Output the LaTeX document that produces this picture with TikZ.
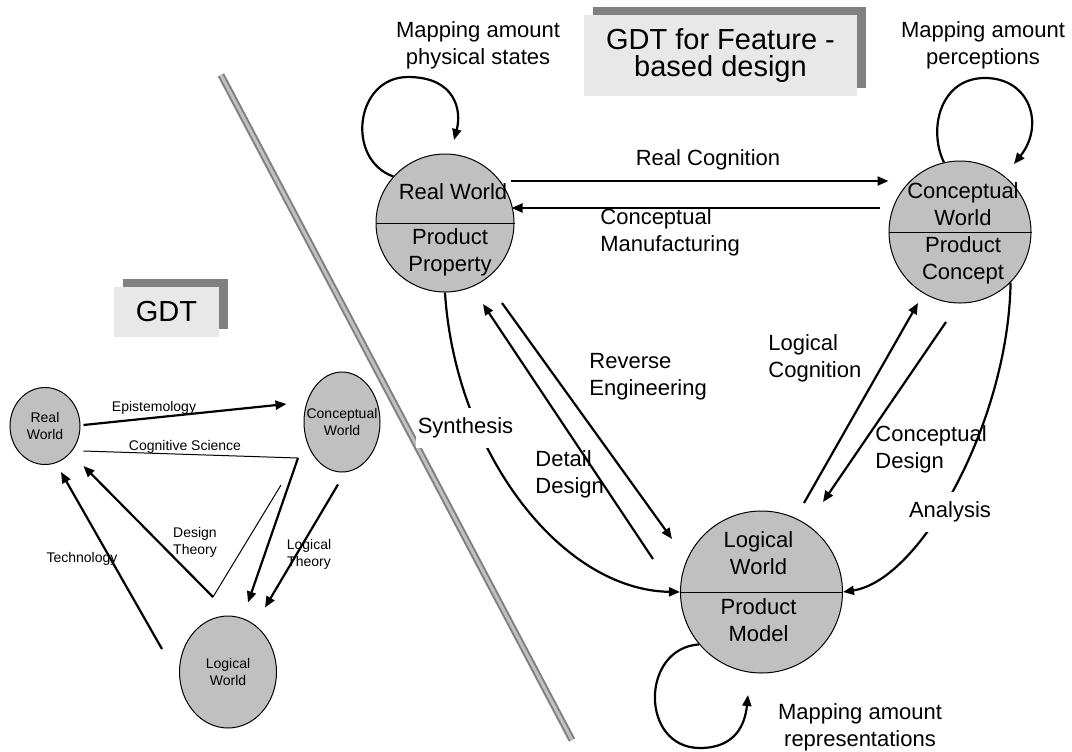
\documentclass[tikz,border=0pt]{standalone}
\usepackage{fontspec}
\setmainfont{Liberation Sans}
\usetikzlibrary{arrows.meta,calc,shapes.geometric,shadows}

\definecolor{silver}{RGB}{192,192,192}
\definecolor{boxgray}{RGB}{232,232,232}
\definecolor{shadegray}{RGB}{128,128,128}

\tikzset{
	world/.style={circle, draw, fill=silver, line width=0.5pt, inner sep=0pt, minimum size=#1},
	smallworld/.style={ellipse, draw, fill=silver, line width=0.5pt, inner sep=0pt},
	titlebox/.style={fill=boxgray, inner sep=0pt, align=center, font=\fontsize{14.5}{13.5}\selectfont,
		general shadow={fill=shadegray, shadow xshift=4.5pt, shadow yshift=4pt}},
	arr/.style={line width=1.1pt, -{Triangle[length=5.5pt,width=4.5pt]}},
	thinline/.style={line width=0.5pt},
	txt/.style={font=\fontsize{11}{13.5}\selectfont, align=center, inner sep=1pt},
	smalltxt/.style={font=\fontsize{7}{8.4}\selectfont, align=center, inner sep=0pt},
	gap/.style={txt, fill=white, inner ysep=5pt}
}

\begin{document}
\begin{tikzpicture}[x=0.5pt, y=-0.5pt]
	\useasboundingbox (0,0) rectangle (1072,751);

	% divider between the two diagrams
	\draw[shadegray, line width=1pt, double=silver, double distance=1.5pt] (221,75) -- (572,740);

	\node[titlebox, minimum width=136.5pt, minimum height=40.5pt] (fbdtitle) at (720.5,55.5) {GDT for Feature -\\based design};
	\node[titlebox, minimum width=52.5pt, minimum height=25pt] (gdttitle) at (166.5,312) {GDT};

	% GDT
	\node[smallworld, minimum width=35pt, minimum height=38.5pt, label={[smalltxt]center:{Real\\World}}] (real) at (45,426) {};
	\node[smallworld, minimum width=38pt, minimum height=50pt, label={[smalltxt]center:{Conceptual\\World}}] (concept) at (342,422) {};
	\node[smallworld, minimum width=48.5pt, minimum height=56pt, label={[smalltxt]center:{Logical\\World}}] (logic) at (228,672) {};

	\coordinate (cogbend) at (298,458);
	\coordinate (desstart) at (281,485);
	\coordinate (desbend) at (213,597);

	\draw[arr] ($(real.east)+(3,-1)$) -- ($(concept.west)+(-17,-18)$);
	\draw[thinline] ($(real.east)+(3,25)$) -- (cogbend);
	\draw[arr] (cogbend) -- ($(logic.north)+(20,-13)$);
	\draw[arr] ($(concept.south)+(-4,12)$) -- ($(logic.north)+(37,-8)$);
	\draw[thinline] (desstart) -- (desbend);
	\draw[arr] (desbend) -- ($(real.east)+(3,40)$);
	\draw[arr] ($(logic.west)+(-17,-23)$) -- ($(real.south)+(16,7)$);

	\foreach \nm/\x/\y/\txt in {epislbl/154/408/Epistemology, coglbl/185/447/{Cognitive Science},
		deslbl/195/542/{Design\\Theory}, loglbl/309/554/{Logical\\Theory}, techlbl/82/559/Technology}
		\node[smalltxt] (\nm) at (\x,\y) {\txt};

	% GDT for feature-based design
	\node[world=69pt] (rw) at (445,223) {};
	\node[world=71pt] (cw) at (960,232) {};
	\node[world=81pt] (lw) at (761.5,592) {};
	\foreach \w in {rw,cw,lw}
		\draw[thinline] (\w.west) -- (\w.east);

	\node[txt] (rwup) at ($(rw)+(8,-31)$) {Real World};
	\node[txt] (rwlow) at ($(rw)+(5,29)$) {Product\\Property};
	\node[txt] (cwup) at ($(cw)+(3,-28)$) {Conceptual\\World};
	\node[txt] (cwlow) at ($(cw)+(3,28)$) {Product\\Concept};
	\node[txt] (lwup) at ($(lw)+(-3,-39)$) {Logical\\World};
	\node[txt] (lwlow) at ($(lw)+(-3,28)$) {Product\\Model};

	% self mappings
	\coordinate (rwtop) at (408,77);
	\coordinate (rwend) at (454,140);
	\coordinate (cwtop) at (985,78);
	\coordinate (cwend) at (1014,164);
	\coordinate (lwbot) at (700,748);
	\coordinate (lwend) at (748,695);
	\draw[arr] (rw.138) .. controls +(-48,-17) and +(-53,0) .. (rwtop) .. controls +(47,0) and +(8,-30) .. (rwend);
	\draw[arr] (cw.103) .. controls +(-16,-33) and +(-45,0) .. (cwtop) .. controls +(45,0) and +(31,-39) .. (cwend);
	\draw[arr] (lw.220) .. controls +(-59,4) and +(-60,0) .. (lwbot) .. controls +(35,0) and +(-3,30) .. (lwend);

	\foreach \nm/\x/\y/\txt in {maprw/478/45/{Mapping amount\\physical states}, mapcw/983/45/{Mapping amount\\perceptions},
		maplw/860/727/{Mapping amount\\representations}}
		\node[txt] (\nm) at (\x,\y) {\txt};

	% mappings between worlds
	\draw[arr] ($(rw.east)+(-4,-42)$) -- ($(cw.west)+(0,-51)$);
	\draw[arr] ($(cw.west)+(-9,-24)$) -- ($(rw.east)+(-3,-15)$);
	\draw[arr] ($(rw)+(57,80)$) -- ($(lw)+(-89.5,-53)$);
	\draw[arr] ($(lw)+(-108.5,-33)$) -- ($(rw)+(38,81)$);
	\draw[arr] ($(lw)+(42.5,-89)$) -- ($(cw)+(-42,71)$);
	\draw[arr] ($(cw)+(-14,90)$) -- ($(lw)+(61.5,-90)$);
	\draw[arr] (rw.south) .. controls +(10,158) and +(-120,-2) .. (lw.west);
	\draw[arr] (cw.-45) .. controls +(-2,138) and +(78,-12) .. (lw.east);

	\node[txt] (rclbl) at (708,160) {Real Cognition};
	\node[txt, align=left, anchor=west] (cmlbl) at (598,232) {Conceptual\\Manufacturing};
	\node[txt, align=left, anchor=west] (relbl) at (587,377) {Reverse\\Engineering};
	\node[txt, align=left, anchor=west] (ddlbl) at (533,474) {Detail\\Design};
	\node[txt, align=left, anchor=west] (lclbl) at (766,358) {Logical\\Cognition};
	\node[txt, align=left, anchor=west] (cdlbl) at (873,449) {Conceptual\\Design};
	\node[gap] (synlbl) at (465.5,428) {Synthesis};
	\node[gap] (analbl) at (950,512) {Analysis};
\end{tikzpicture}
\end{document}
